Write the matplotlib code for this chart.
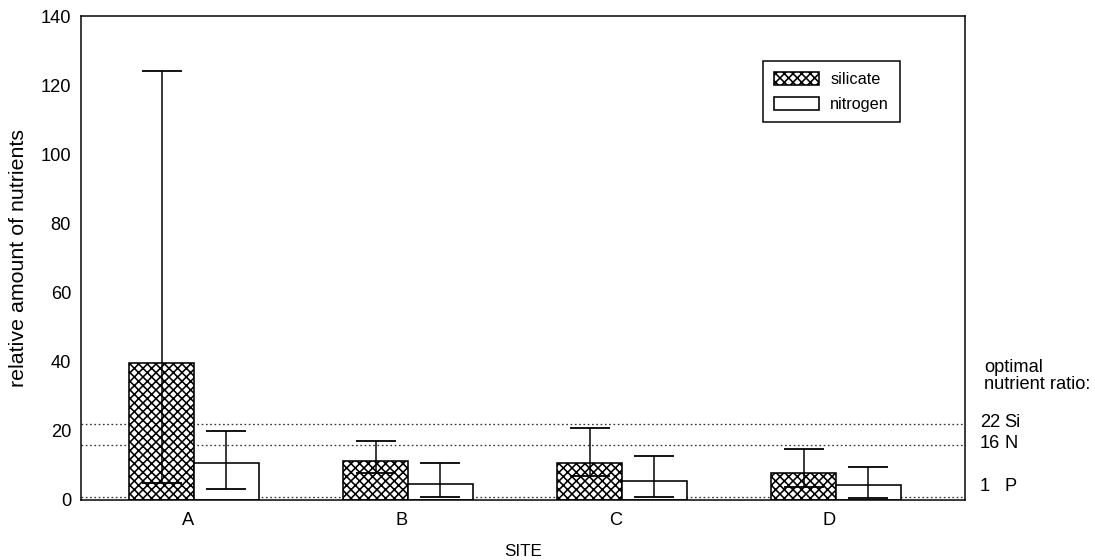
import matplotlib
matplotlib.use("Agg")
import matplotlib.pyplot as plt
import numpy as np

DPI = 130
W, H = 1095, 560

def pt(px):
    return px * 72.0 / DPI

plt.rcParams['font.family'] = ['Liberation Sans', 'DejaVu Sans']
plt.rcParams['hatch.linewidth'] = pt(1.6)

sites = ["A", "B", "C", "D"]
silicate = [39.6, 11.4, 10.6, 7.9]
silicate_hi = [124.1, 17.1, 20.9, 14.7]
silicate_lo = [4.9, 7.9, 6.9, 3.7]
nitrogen = [10.7, 4.7, 5.6, 4.3]
nitrogen_hi = [20.0, 10.8, 12.8, 9.5]
nitrogen_lo = [3.2, 1.0, 0.8, 0.5]
ratio_values = [22, 16, 1]
ratio_labels = ["Si", "N", "P"]

fig = plt.figure(figsize=(W / DPI, H / DPI), dpi=DPI)
ax = fig.add_axes([81 / W, 1 - 500 / H, (965 - 81) / W, (500 - 16) / H])

x = np.arange(len(sites))
w = 0.303

for v in ratio_values:
    ax.axhline(v, color='#333333', lw=pt(1.3), linestyle=(0, (1.3, 2.0)), zorder=1)

ax.bar(x - w / 2, silicate, w, facecolor='white', edgecolor='black', hatch='xxxxx',
       lw=pt(1.6), zorder=2, label='silicate')
ax.bar(x + w / 2, nitrogen, w, facecolor='white', edgecolor='black',
       lw=pt(1.6), zorder=2, label='nitrogen')

def err(vals, lo, hi):
    v = np.array(vals)
    return [v - np.array(lo), np.array(hi) - v]

for xs, vals, lo, hi in [(x - w / 2, silicate, silicate_lo, silicate_hi),
                         (x + w / 2, nitrogen, nitrogen_lo, nitrogen_hi)]:
    ax.errorbar(xs, vals, yerr=err(vals, lo, hi), fmt='none', ecolor='black',
                elinewidth=pt(1.5), capsize=pt(20), capthick=pt(1.8), zorder=3)

ax.set_xlim(-0.528, 3.603)
ax.set_ylim(0, 140)
ax.set_yticks(np.arange(0, 141, 20))
ax.set_xticks(x - 0.03)
ax.set_xticklabels(sites)
ax.tick_params(length=0, labelsize=pt(18.3))
ax.tick_params(axis='y', pad=pt(10))
ax.tick_params(axis='x', pad=pt(12))
for s in ax.spines.values():
    s.set_linewidth(pt(1.5))

ax.set_ylabel("relative amount of nutrients", fontsize=pt(21.4), labelpad=pt(12))
ax.set_xlabel("SITE", fontsize=pt(17), labelpad=pt(15))

leg = ax.legend(loc='upper left', bbox_to_anchor=((763 - 81) / 884, 1 - (61 - 16) / 484),
                borderaxespad=0, fontsize=pt(16.2), frameon=True, fancybox=False,
                framealpha=1, edgecolor='black', handlelength=2.78, handleheight=0.9,
                borderpad=0.65, labelspacing=0.6, handletextpad=0.72)
leg.get_frame().set_linewidth(pt(1.5))

fig.text(984 / W, 1 - 376 / H, "optimal\nnutrient ratio:", fontsize=pt(18.3),
         va='center', ha='left', linespacing=0.98)
for v, lab in zip(ratio_values, ratio_labels):
    ypix = ax.transData.transform((0, v))[1]
    yfig = ypix / fig.bbox.height
    if v == 1:
        yfig += 10 / H
    else:
        yfig += 1 / H
    fig.text(980 / W, yfig, f"{v}", fontsize=pt(18.3), va='center', ha='left')
    fig.text(1004 / W, yfig, lab, fontsize=pt(18.3), va='center', ha='left')

fig.savefig("out.png", dpi=DPI)
